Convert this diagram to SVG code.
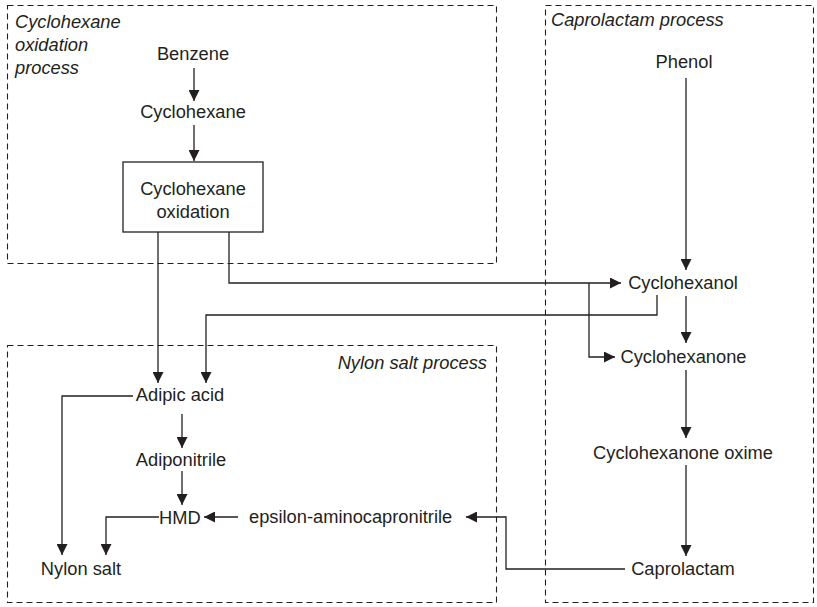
<svg xmlns="http://www.w3.org/2000/svg" width="817" height="607" viewBox="0 0 817 607">
<defs>
<style>
.t{font-family:"Liberation Sans",Arial,sans-serif;font-size:18.3px;fill:#231f20}
.m{text-anchor:middle}
.i{font-style:italic}
.grp{fill:none;stroke:#231f20;stroke-width:1.1;stroke-dasharray:6,4}
.c{fill:none;stroke:#231f20;stroke-width:1.3}
.a{marker-end:url(#ah)}
</style>
<marker id="ah" viewBox="0 0 10 10" refX="10" refY="5" markerWidth="11" markerHeight="11" orient="auto" markerUnits="userSpaceOnUse">
<path d="M0,0 L10,5 L0,10 z" fill="#231f20"/>
</marker>
</defs>
<rect width="817" height="607" fill="#fff"/>
<g id="group-cyclohexane-oxidation-process">
<rect class="grp" x="7.5" y="5.5" width="489" height="258"/>
<text class="t i" x="15" y="28">Cyclohexane</text>
<text class="t i" x="15" y="51">oxidation</text>
<text class="t i" x="15" y="74">process</text>
</g>
<g id="group-caprolactam-process">
<rect class="grp" x="545.5" y="5.5" width="268" height="597"/>
<text class="t i" x="551" y="26">Caprolactam process</text>
</g>
<g id="group-nylon-salt-process">
<rect class="grp" x="7.5" y="345.5" width="489" height="257"/>
<text class="t i" x="487" y="369" text-anchor="end">Nylon salt process</text>
</g>
<g id="connectors">
<path class="c a" d="M194,68 V101"/>
<path class="c a" d="M194,125 V161"/>
<path class="c a" d="M158,232 V383"/>
<path class="c a" d="M229,232 V283 H621"/>
<path class="c a" d="M589,283 V357 H615"/>
<path class="c a" d="M657,295 V315 H206 V383"/>
<path class="c a" d="M686,78 V270"/>
<path class="c a" d="M686,296 V343"/>
<path class="c a" d="M686,370 V438"/>
<path class="c a" d="M686,465 V556"/>
<path class="c a" d="M182,414 V448"/>
<path class="c a" d="M182,471 V505"/>
<path class="c a" d="M238,517 H204"/>
<path class="c a" d="M625,569 H506 V517 H466"/>
<path class="c a" d="M133,396 H62 V555"/>
<path class="c a" d="M159,517 H106 V555"/>
</g>
<g id="node-benzene"><text class="t m" x="193" y="60">Benzene</text></g>
<g id="node-cyclohexane"><text class="t m" x="193" y="118">Cyclohexane</text></g>
<g id="node-cyclohexane-oxidation">
<rect x="123" y="162" width="140" height="70" fill="#fff" stroke="#231f20" stroke-width="1.3"/>
<text class="t m" x="193" y="195">Cyclohexane</text>
<text class="t m" x="193" y="218">oxidation</text>
</g>
<g id="node-phenol"><text class="t m" x="684" y="68">Phenol</text></g>
<g id="node-cyclohexanol"><text class="t m" x="683" y="289">Cyclohexanol</text></g>
<g id="node-cyclohexanone"><text class="t m" x="683.5" y="363">Cyclohexanone</text></g>
<g id="node-cyclohexanone-oxime"><text class="t m" x="683" y="459">Cyclohexanone oxime</text></g>
<g id="node-caprolactam"><text class="t m" x="683" y="575">Caprolactam</text></g>
<g id="node-adipic-acid"><text class="t m" x="180" y="401">Adipic acid</text></g>
<g id="node-adiponitrile"><text class="t m" x="181" y="466">Adiponitrile</text></g>
<g id="node-hmd"><text class="t" x="159" y="524">HMD</text></g>
<g id="node-epsilon-aminocapronitrile"><text class="t" x="249" y="523">epsilon-aminocapronitrile</text></g>
<g id="node-nylon-salt"><text class="t m" x="81" y="575">Nylon salt</text></g>
</svg>
